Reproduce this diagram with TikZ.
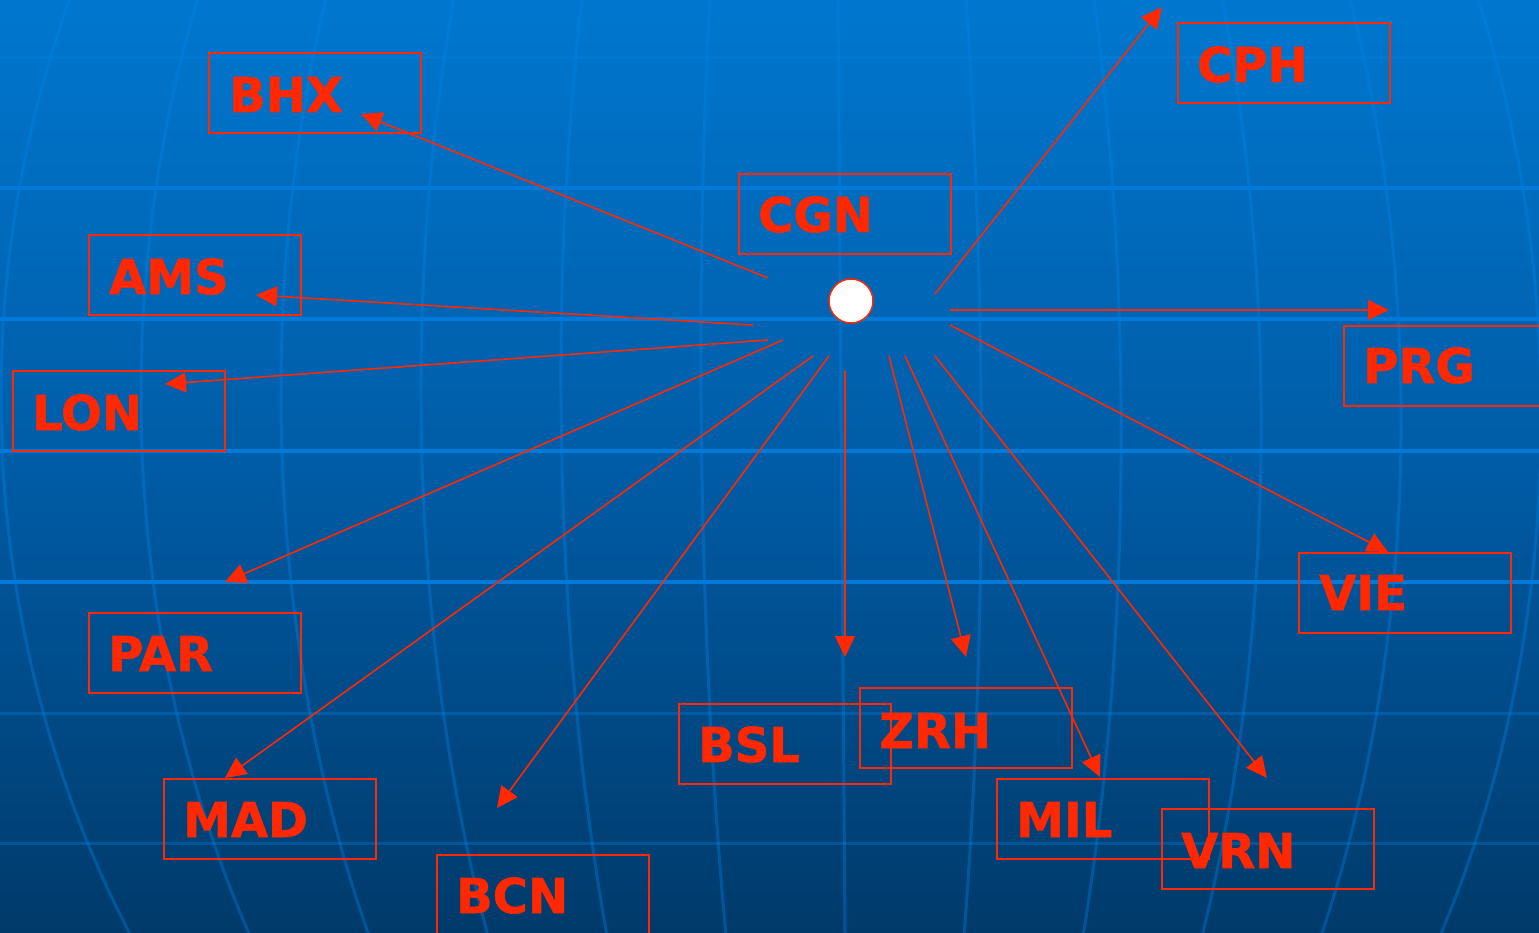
\documentclass[tikz,border=0pt]{standalone}
\usepackage{fontspec}
\setmainfont{DejaVu Sans}
\newfontfamily\lblfont{DejaVu Sans Bold}[FakeBold=1.2]
\usetikzlibrary{arrows.meta}
\definecolor{cred}{RGB}{255,40,0}
\definecolor{bgtop}{RGB}{0,119,207}
\definecolor{bgmid}{RGB}{0,92,166}
\definecolor{bgbot}{RGB}{0,58,106}
\definecolor{gridbright}{RGB}{0,122,218}
\definecolor{gridsoft}{RGB}{0,135,235}
\begin{document}
\begin{tikzpicture}[x=1pt,y=-1pt,
  box/.style={draw=cred, line width=1.7pt, minimum width=212pt, minimum height=80pt, inner sep=0pt, anchor=north west},
  lbl/.style={text=cred, font=\fontsize{48}{56}\selectfont\lblfont, inner sep=0pt, anchor=base west},
  link/.style={draw=cred, line width=1.6pt, -{Triangle[length=21pt,width=20pt]}},
  meridian/.style={draw=gridsoft, opacity=0.35, line width=3pt},
  hbright/.style={draw=gridbright, line width=4pt},
  hsoft/.style={draw=gridsoft, opacity=0.3, line width=3pt}]
\useasboundingbox (0,0) rectangle (1539,933);
\begin{scope}
\clip (0,0) rectangle (1539,933);
\shade[top color=bgtop, bottom color=bgbot, middle color=bgmid] (0,0) rectangle (1539,933);
% globe grid
\foreach \k in {-6,...,5} {
  \draw[meridian] plot[domain=0:933, samples=60, smooth, variable=\t]
    ({838+0.0075*\t+\k*140*sqrt(1-((\t-406)/1006)^2)}, {\t});
}
\foreach \yy in {188,319,451,582} { \draw[hbright] (0,\yy) -- (1539,\yy); }
\foreach \yy in {58,713,843} { \draw[hsoft] (0,\yy) -- (1539,\yy); }

% boxes
\node[box] (bhx) at (208,52) {};
\node[box] (cph) at (1177,22) {};
\node[box] (cgn) at (738,173) {};
\node[box] (ams) at (88,234) {};
\node[box] (lon) at (12,370) {};
\node[box] (prg) at (1343,325) {};
\node[box] (vie) at (1298,552) {};
\node[box] (par) at (88,612) {};
\node[box] (bsl) at (678,703) {};
\node[box] (zrh) at (859,687) {};
\node[box] (mad) at (163,778) {};
\node[box] (mil) at (996,778) {};
\node[box] (vrn) at (1161,808) {};
\node[box] (bcn) at (436,854) {};

% labels
\node[lbl] (tbhx) at (229,112) {BHX};
\node[lbl] (tcph) at (1197,82) {CPH};
\node[lbl] (tcgn) at (758,232) {CGN};
\node[lbl] (tams) at (109,294) {AMS};
\node[lbl] (tlon) at (32,430) {LON};
\node[lbl] (tprg) at (1363,383) {PRG};
\node[lbl] (tvie) at (1319,610) {VIE};
\node[lbl] (tpar) at (108,671) {PAR};
\node[lbl] (tbsl) at (698,762) {BSL};
\node[lbl] (tzrh) at (879,748) {ZRH};
\node[lbl] (tmad) at (183,837) {MAD};
\node[lbl] (tmil) at (1016,837) {MIL};
\node[lbl] (tvrn) at (1181,868) {VRN};
\node[lbl] (tbcn) at (456,913) {BCN};

% hub
\node[circle, draw=cred, fill=white, line width=1.5pt, minimum size=44pt, inner sep=0pt] (hub) at (851,301) {};

% connector ends
\coordinate (s-bhx) at (768,278);  \coordinate (e-bhx) at (361,114);
\coordinate (s-cph) at (935,294);  \coordinate (e-cph) at (1162,7);
\coordinate (s-ams) at (753,325);  \coordinate (e-ams) at (256,295);
\coordinate (s-lon) at (768,340);  \coordinate (e-lon) at (165,384);
\coordinate (s-prg) at (950,310);  \coordinate (e-prg) at (1389,310);
\coordinate (s-par) at (783,340);  \coordinate (e-par) at (225,582);
\coordinate (s-mad) at (813,356);  \coordinate (e-mad) at (225,778);
\coordinate (s-bcn) at (829,356);  \coordinate (e-bcn) at (497,808);
\coordinate (s-bsl) at (845,371);  \coordinate (e-bsl) at (845,657);
\coordinate (s-zrh) at (889,356);  \coordinate (e-zrh) at (966,657);
\coordinate (s-mil) at (905,356);  \coordinate (e-mil) at (1100,777);
\coordinate (s-vrn) at (935,356);  \coordinate (e-vrn) at (1267,778);
\coordinate (s-vie) at (950,325);  \coordinate (e-vie) at (1388,552);

\foreach \n in {bhx,cph,ams,lon,prg,par,mad,bcn,bsl,zrh,mil,vrn,vie} {
  \draw[link] (s-\n) -- (e-\n);
}
\end{scope}
\end{tikzpicture}
\end{document}
